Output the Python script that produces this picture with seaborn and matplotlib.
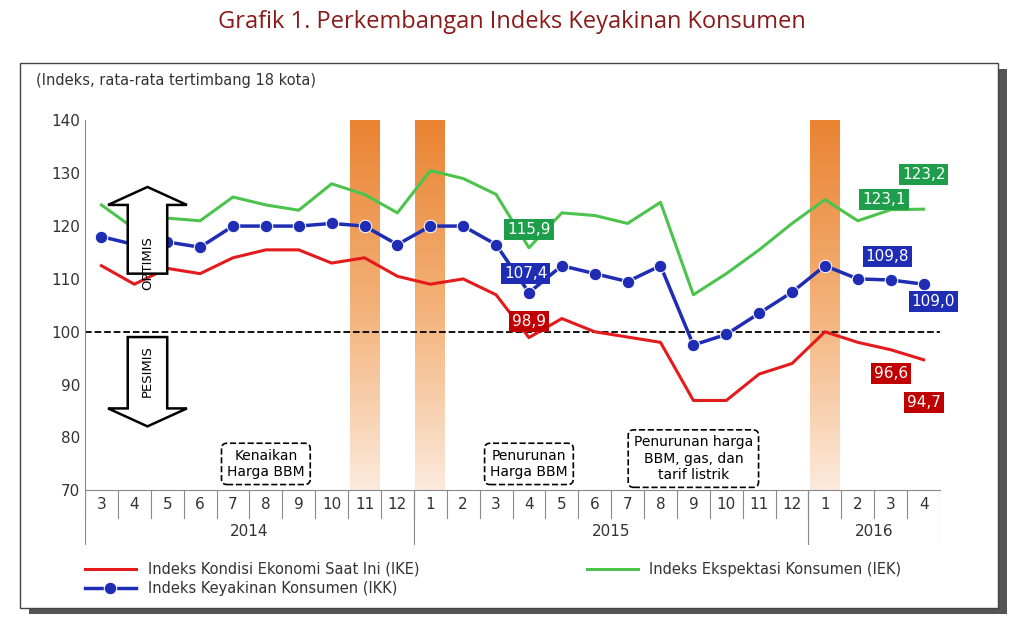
import matplotlib
matplotlib.use("Agg")
import matplotlib.pyplot as plt
import seaborn as sns
import pandas as pd
import numpy as np
from matplotlib.patches import FancyArrow, Rectangle
from matplotlib.colors import LinearSegmentedColormap

months = ["3","4","5","6","7","8","9","10","11","12",
          "1","2","3","4","5","6","7","8","9","10","11","12",
          "1","2","3","4"]
years = ["2014"]*10 + ["2015"]*12 + ["2016"]*4
ike = [112.5,109,112,111,114,115.5,115.5,113,114,110.5,109,110,107,98.9,102.5,100,99,98,87,87,92,94,100,98,96.6,94.7]
iek = [124,119.5,121.5,121,125.5,124,123,128,126,122.5,130.5,129,126,115.9,122.5,122,120.5,124.5,107,111,115.5,120.5,125,121,123.1,123.2]
ikk = [118,116.5,117,116,120,120,120,120.5,120,116.5,120,120,116.5,107.4,112.5,111,109.5,112.5,97.5,99.5,103.5,107.5,112.5,110,109.8,109.0]
shade_idx = [8, 10, 22]

n = len(months)
df = pd.DataFrame({"x": np.arange(n), "IKE": ike, "IEK": iek, "IKK": ikk})

fig = plt.figure(figsize=(10.24, 6.27), dpi=100)
fig.patch.set_facecolor("white")
fig.patches.append(Rectangle((0.028, 0.02), 0.955, 0.87, transform=fig.transFigure, facecolor="#555555", edgecolor="none", zorder=0))
fig.patches.append(Rectangle((0.02, 0.03), 0.955, 0.87, transform=fig.transFigure, facecolor="white", edgecolor="#444444", lw=1, zorder=1))
fig.text(0.5, 0.965, "Grafik 1. Perkembangan Indeks Keyakinan Konsumen", ha="center", va="center",
         fontsize=17, color="#8B1A1A", fontfamily="Open Sans")
fig.text(0.035, 0.865, "(Indeks, rata-rata tertimbang 18 kota)", fontsize=10.5, color="#333333")

ax = fig.add_axes([0.083, 0.218, 0.835, 0.59])
ax.set_zorder(2)
ax.tick_params(axis="y", labelsize=11, colors="#333333", length=0)
ax.set_xticks([])
for s in ["top", "right"]:
    ax.spines[s].set_visible(False)
ax.spines["left"].set_color("#888888")
ax.spines["bottom"].set_color("#888888")

grad = np.linspace(0, 1, 256).reshape(-1, 1)
cm = LinearSegmentedColormap.from_list("o", ["#FCE8D8", "#F2A868", "#E8751A"])
for i in shade_idx:
    ax.imshow(grad, extent=[i-0.45, i+0.45, 140, 70], cmap=cm, aspect="auto", zorder=1, alpha=0.9, origin="upper")

ax.axhline(100, color="black", ls="--", lw=1.3, zorder=2)
sns.lineplot(data=df, x="x", y="IKE", ax=ax, color="#E41A1C", lw=2.2, zorder=3, label="Indeks Kondisi Ekonomi Saat Ini (IKE)")
sns.lineplot(data=df, x="x", y="IEK", ax=ax, color="#4CC34C", lw=2.2, zorder=3, label="Indeks Ekspektasi Konsumen (IEK)")
sns.lineplot(data=df, x="x", y="IKK", ax=ax, color="#1E2DB4", lw=2.5, marker="o", markersize=9, zorder=4, label="Indeks Keyakinan Konsumen (IKK)")
ax.set_xlabel(""); ax.set_ylabel("")
ax.set_xlim(-0.5, n-0.5)
ax.set_ylim(70, 140)
ax.set_yticks(range(70, 141, 10))
ax.legend_.remove()

def lab(i, v, color, dx=0, dy=0):
    ax.text(i+dx, v+dy, f"{v:.1f}".replace(".", ","), ha="center", va="center", fontsize=11, color="white",
            bbox=dict(boxstyle="square,pad=0.2", fc=color, ec="none"), zorder=6, clip_on=False)
lab(13, iek[13], "#1E9E4A", 0, 3.5)
lab(13, ikk[13], "#1E2DB4", -0.1, 3.7)
lab(13, ike[13], "#C00000", 0, 3.0)
lab(24.5, 123.2, "#1E9E4A", 0.5, 6.5)
lab(24.5, 123.1, "#1E9E4A", -0.7, 2.0)
lab(24.5, 109.8, "#1E2DB4", -0.6, 4.5)
lab(25, 109.0, "#1E2DB4", 0.3, -3.3)
lab(24, 96.6, "#C00000", 0.0, -4.5)
lab(25, 94.7, "#C00000", 0.0, -8.0)

ax.add_patch(FancyArrow(1.4, 111, 0, 13, width=1.2, head_width=2.4, head_length=3.4, fc="white", ec="black", lw=1.8, zorder=5))
ax.add_patch(FancyArrow(1.4, 99, 0, -13.5, width=1.2, head_width=2.4, head_length=3.4, fc="white", ec="black", lw=1.8, zorder=5))
ax.text(1.4, 113, "OPTIMIS", rotation=90, ha="center", va="center", fontsize=9.5, zorder=6)
ax.text(1.4, 92.5, "PESIMIS", rotation=90, ha="center", va="center", fontsize=9.5, zorder=6)

def callout(x, y, txt):
    ax.text(x, y, txt, ha="center", va="center", fontsize=10, zorder=6,
            bbox=dict(boxstyle="round,pad=0.4", fc="white", ec="black", ls="--", lw=1.2))
callout(5.0, 75, "Kenaikan\nHarga BBM")
callout(13.0, 75, "Penurunan\nHarga BBM")
callout(18.0, 76, "Penurunan harga\nBBM, gas, dan\ntarif listrik")

ax2 = fig.add_axes([0.083, 0.13, 0.835, 0.088])
ax2.set_zorder(2)
ax2.patch.set_alpha(0)
ax2.set_xlim(-0.5, n-0.5); ax2.set_ylim(0, 2)
ax2.axis("off")
for i, m in enumerate(months):
    ax2.text(i, 1.5, m, ha="center", va="center", fontsize=11, color="#333333")
    ax2.plot([i-0.5, i-0.5], [1, 2], color="#888888", lw=0.8)
ax2.plot([n-0.5, n-0.5], [0, 2], color="#888888", lw=0.8)
start = 0
for y in ["2014", "2015", "2016"]:
    cnt = years.count(y)
    ax2.plot([start-0.5, start-0.5], [0, 2], color="#888888", lw=0.8)
    ax2.text(start + cnt/2 - 0.5, 0.5, y, ha="center", va="center", fontsize=11, color="#333333")
    start += cnt

h, l = ax.get_legend_handles_labels()
lg1 = fig.legend([h[0], h[2]], [l[0], l[2]], loc="upper left", bbox_to_anchor=(0.07, 0.125), frameon=False, fontsize=10.5,
           handlelength=3.5, labelcolor="#333333", ncol=1, labelspacing=0.3)
lg2 = fig.legend([h[1]], [l[1]], loc="upper left", bbox_to_anchor=(0.56, 0.125), frameon=False, fontsize=10.5,
           handlelength=3.5, labelcolor="#333333")
lg1.set_zorder(3); lg2.set_zorder(3)
fig.savefig("out.png", dpi=100)
